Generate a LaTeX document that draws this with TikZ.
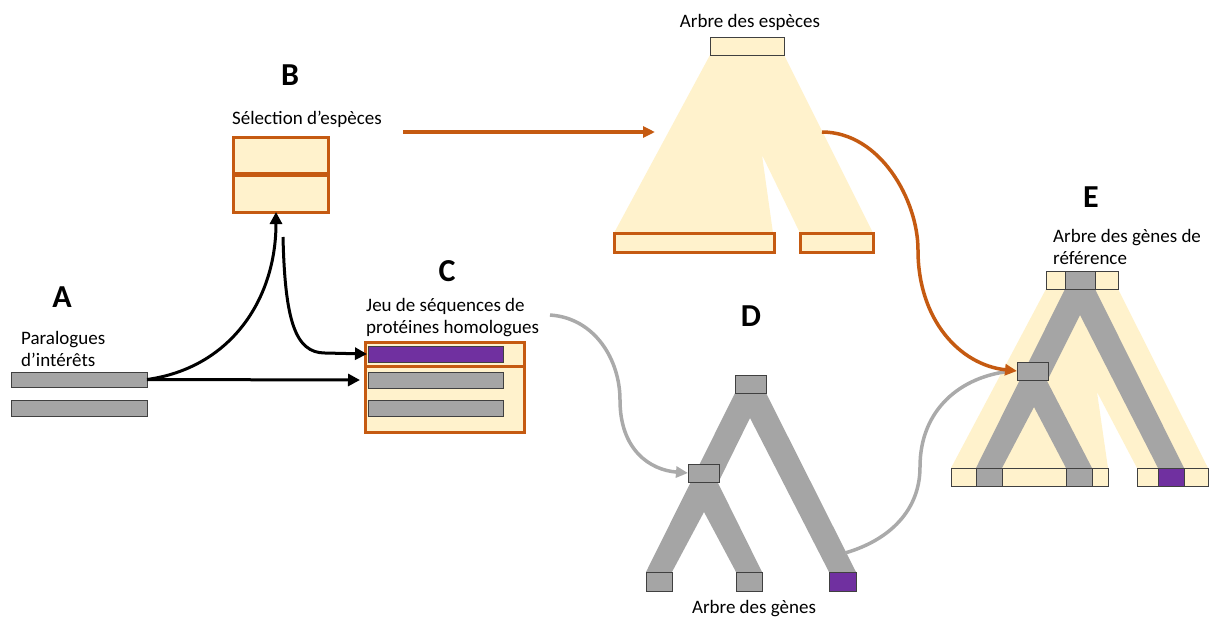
\documentclass[tikz,border=0pt]{standalone}
\usepackage{fontspec}
\setmainfont{Carlito}
\usetikzlibrary{arrows.meta}
\definecolor{cream}{HTML}{FFF2CC}
\definecolor{orng}{HTML}{C55A11}
\definecolor{purp}{HTML}{7030A0}
\definecolor{gfill}{HTML}{A5A5A5}
\definecolor{gline}{HTML}{AAAAAA}
\definecolor{bord}{HTML}{404040}
\begin{document}
\begin{tikzpicture}[x=1pt,y=-1pt,
  cell/.style={inner sep=0pt, outer sep=0pt, anchor=north west, draw=bord, line width=0.8pt},
  graycell/.style={cell, fill=gfill},
  creamcell/.style={cell, fill=cream},
  purpcell/.style={cell, fill=purp},
  obox/.style={inner sep=0pt, outer sep=0pt, anchor=north west, draw=orng, line width=3pt, fill=cream},
  lbl/.style={inner sep=0pt, anchor=base west, font=\fontsize{19}{23}\selectfont},
  clbl/.style={inner sep=0pt, anchor=base, font=\fontsize{19}{23}\selectfont},
  big/.style={inner sep=0pt, anchor=base, font=\fontsize{32}{38}\selectfont\bfseries},
  blackarrow/.style={draw=black, line width=3pt, -{Triangle[length=12pt,width=12pt]}},
  orangearrow/.style={draw=orng, line width=3.5pt, -{Triangle[length=12pt,width=11pt]}},
  grayarrow/.style={draw=gline, line width=3.5pt, -{Triangle[length=12pt,width=11pt]}},
  grayline/.style={draw=gline, line width=3.5pt}
]
\useasboundingbox (0,0) rectangle (1211,619);

% ---------- letters ----------
\node[big] (LA) at (62,307) {A};
\node[big] (LB) at (290,85) {B};
\node[big] (LC) at (447,281) {C};
\node[big] (LD) at (751,326) {D};
\node[big] (LE) at (1091,207) {E};

% ---------- labels ----------
\node[lbl] (tA1) at (21,344) {Paralogues};
\node[lbl] (tA2) at (21,366) {d’intérêts};
\node[lbl] (tB) at (232,124) {Sélection d’espèces};
\node[lbl] (tC1) at (366,311) {Jeu de séquences de};
\node[lbl] (tC2) at (366,333) {protéines homologues};
\node[clbl] (tS) at (750,27) {Arbre des espèces};
\node[clbl] (tD) at (754,613) {Arbre des gènes};
\node[lbl] (tE1) at (1053,242) {Arbre des gènes de};
\node[lbl] (tE2) at (1053,264) {référence};

% ---------- A ----------
\node[graycell, minimum width=136pt, minimum height=15pt] (a1) at (11,372) {};
\node[graycell, minimum width=136pt, minimum height=16pt] (a2) at (11,400) {};

% ---------- B ----------
\node[obox, minimum width=95pt, minimum height=36.5pt] (b1) at (233,137) {};
\node[obox, minimum width=95pt, minimum height=36.5pt] (b2) at (233,175.5) {};

% ---------- C ----------
\node[obox, minimum width=159pt, minimum height=24pt] (c1) at (365,342) {};
\node[obox, minimum width=159pt, minimum height=66pt] (c2) at (365,366) {};
\node[purpcell, minimum width=135pt, minimum height=16pt] (cp) at (368,346) {};
\node[graycell, minimum width=135pt, minimum height=16pt] (cg1) at (368,372) {};
\node[graycell, minimum width=135pt, minimum height=16pt] (cg2) at (368,400) {};

% ---------- species tree ----------
\fill[cream] (710,55) -- (784,55) -- (873,233) -- (800,233) -- (762,155) -- (773,233) -- (614,233) -- cycle;
\node[creamcell, minimum width=74pt, minimum height=18pt] (st) at (710,37) {};
\node[obox, minimum width=160pt, minimum height=19pt] (sl) at (614,233) {};
\node[obox, minimum width=73pt, minimum height=19pt] (sr) at (800,233) {};

% ---------- D gene tree ----------
\fill[gfill] (735,393) -- (766,393) -- (856,572) -- (829,572) -- (750,418) -- (718,483)
  -- (762,572) -- (736,572) -- (704,512) -- (672,572) -- (646,572) -- cycle;
\node[graycell, minimum width=31pt, minimum height=18pt] (dr) at (735,375) {};
\node[graycell, minimum width=31pt, minimum height=18pt] (di) at (688,464) {};
\node[graycell, minimum width=26pt, minimum height=19pt] (dl1) at (646,572) {};
\node[graycell, minimum width=26pt, minimum height=19pt] (dl2) at (736,572) {};
\node[purpcell, minimum width=27pt, minimum height=19pt] (dl3) at (829,572) {};

% ---------- E reference tree ----------
\fill[cream] (1046,289) -- (1118,289) -- (1208,468) -- (1137,468) -- (1097,392) -- (1108,468) -- (951,468) -- cycle;
\fill[gfill] (1065,289) -- (1095,289) -- (1184,468) -- (1158,468) -- (1080,315) -- (1047,381)
  -- (1092,468) -- (1066,468) -- (1034,407) -- (1002,468) -- (976,468) -- cycle;
\node[creamcell, minimum width=19pt, minimum height=18pt] (et1) at (1046,271) {};
\node[graycell, minimum width=30pt, minimum height=18pt] (et2) at (1065,271) {};
\node[creamcell, minimum width=23pt, minimum height=18pt] (et3) at (1095,271) {};
\node[creamcell, minimum width=25pt, minimum height=18pt] (eb1) at (951,468) {};
\node[graycell, minimum width=26pt, minimum height=18pt] (eb2) at (976,468) {};
\node[creamcell, minimum width=64pt, minimum height=18pt] (eb3) at (1002,468) {};
\node[graycell, minimum width=26pt, minimum height=18pt] (eb4) at (1066,468) {};
\node[creamcell, minimum width=16pt, minimum height=18pt] (eb5) at (1092,468) {};
\node[creamcell, minimum width=21pt, minimum height=18pt] (eb6) at (1137,468) {};
\node[purpcell, minimum width=26pt, minimum height=18pt] (eb7) at (1158,468) {};
\node[creamcell, minimum width=24pt, minimum height=18pt] (eb8) at (1184,468) {};
\node[graycell, minimum width=31pt, minimum height=18pt] (ei) at (1017,362) {};

% ---------- connector ends ----------
\coordinate (p1) at (283,237);
\coordinate (o1) at (403,132);
\coordinate (o2) at (655,132);
\coordinate (o3) at (822,132);
\coordinate (g1) at (550,315);
\coordinate (g2) at (845,553);

% ---------- connectors ----------
\draw[blackarrow] (a1.east) .. controls (230,368) and (276,300) .. ([xshift=-4.5pt]b2.south);
\draw[blackarrow] (a1.east) -- ([xshift=-8pt]cg1.west);
\draw[blackarrow] (p1) .. controls (285,320) and (295,353) .. (325,353) -- ([xshift=-1pt]cp.west);
\draw[orangearrow] (o1) -- (o2);
\draw[grayarrow] (g1) .. controls (595,318) and (620,360) .. (620,400) .. controls (620,450) and (650,470) .. (di.west);
\draw[grayline] (g2) .. controls (890,540) and (920,510) .. (920,467) .. controls (920,410) and (960,376) .. ([xshift=-5pt]ei.west);
\draw[orangearrow] (o3) .. controls (880,132) and (918,200) .. (918,250) .. controls (918,320) and (960,365) .. (ei.west);
\end{tikzpicture}
\end{document}
